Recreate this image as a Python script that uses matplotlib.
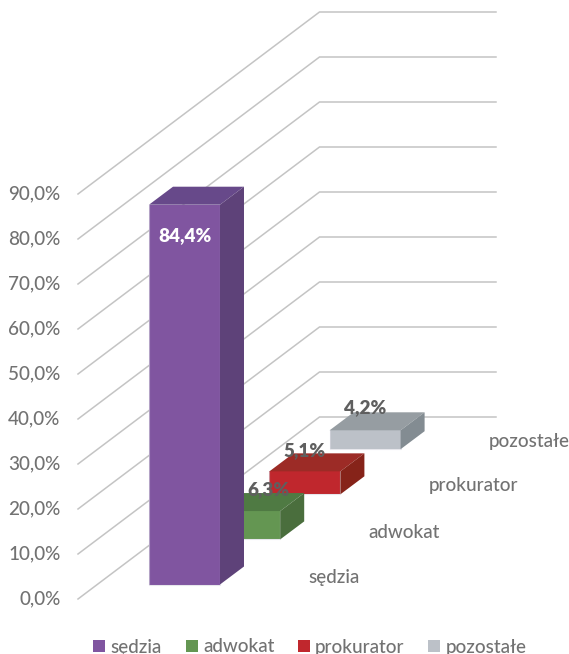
import matplotlib
matplotlib.use("Agg")
import matplotlib.pyplot as plt
from matplotlib.patches import Polygon, Patch

plt.rcParams['font.family'] = ['Lato', 'DejaVu Sans']

categories = ['sędzia', 'adwokat', 'prokurator', 'pozostałe']
values = [84.4, 6.3, 5.1, 4.2]
value_labels = ['84,4%', '6,3%', '5,1%', '4,2%']
ticks = [0, 10, 20, 30, 40, 50, 60, 70, 80, 90]
tick_labels = ['0,0%', '10,0%', '20,0%', '30,0%', '40,0%', '50,0%', '60,0%', '70,0%', '80,0%', '90,0%']
front_colors = ['#8055A0', '#649652', '#C0272D', '#BCC1C8']
top_colors = ['#67498A', '#4F7A43', '#9C2B26', '#969DA2']
side_colors = ['#5E4279', '#4A6E3D', '#862319', '#838C92']

TXT = '#727272'
FS = 13.6
WEIGHT = 'medium'

# Projection of the oblique 3D view, in figure pixels
PX_PER_UNIT = 4.5
FLOOR_FRONT = (78, 599)
FLOOR_BACK = (319.5, 417)
WALL_END = 496
BAR_X0, BAR_Y0 = 149, 584.5
STEP_X, STEP_Y = 60.2, -45.1
BAR_W = 71
DEPTH_X, DEPTH_Y = 24, -18

fig = plt.figure(figsize=(5.69, 6.54), dpi=100)
ax = fig.add_axes([0, 0, 1, 1])
ax.set_xlim(0, 569)
ax.set_ylim(654, 0)
ax.axis('off')

# gridlines and value axis
for t, lab in zip(ticks, tick_labels):
    d = t * PX_PER_UNIT
    ax.plot([FLOOR_FRONT[0], FLOOR_BACK[0], WALL_END],
            [FLOOR_FRONT[1] - d, FLOOR_BACK[1] - d, FLOOR_BACK[1] - d],
            color='#C4C4C4', lw=1.1, solid_joinstyle='miter', zorder=1)
    ax.text(60.5, FLOOR_FRONT[1] - d - 0.2, lab, ha='right', va='center',
            fontsize=FS, color=TXT, fontweight=WEIGHT, zorder=1)

# bars, back to front
for i in reversed(range(len(values))):
    x0 = BAR_X0 + STEP_X * i
    x1 = x0 + BAR_W
    yb = BAR_Y0 + STEP_Y * i
    yt = yb - values[i] * PX_PER_UNIT
    z = 3 + (len(values) - i)
    ec = dict(edgecolor='none', linewidth=0)
    ax.add_patch(Polygon([(x0, yb), (x1, yb), (x1, yt), (x0, yt)],
                         facecolor=front_colors[i], zorder=z, **ec))
    ax.plot([x0, x0, x1, x1], [yt, yb, yb, yt], color='#D8D8E0', lw=0.8, alpha=0.6, zorder=z)
    ax.add_patch(Polygon([(x0, yt), (x1, yt), (x1 + DEPTH_X, yt + DEPTH_Y), (x0 + DEPTH_X, yt + DEPTH_Y)],
                         facecolor=top_colors[i], zorder=z, **ec))
    ax.add_patch(Polygon([(x1, yb), (x1 + DEPTH_X, yb + DEPTH_Y), (x1 + DEPTH_X, yt + DEPTH_Y), (x1, yt)],
                         facecolor=side_colors[i], zorder=z, **ec))

# value labels
label_pos = [(185, 235.5, 'white'), (268, 489.5, '#5F5F5F'), (304.5, 450.5, '#5F5F5F'), (365, 407.5, '#5F5F5F')]
for (lx, ly, c), s in zip(label_pos, value_labels):
    ax.text(lx, ly, s, ha='center', va='center', fontsize=FS, fontweight='heavy', color=c, zorder=10)

# category labels along the depth axis
cat_pos = [(334, 577), (404.5, 532), (474, 486), (529.5, 441.5)]
for (cx, cy), s in zip(cat_pos, categories):
    ax.text(cx, cy, s, ha='center', va='center', fontsize=FS, color=TXT, fontweight=WEIGHT, zorder=2)

handles = [Patch(facecolor=c, edgecolor='none', label=s) for c, s in zip(front_colors, categories)]
leg = ax.legend(handles=handles, loc='center', bbox_to_anchor=(310 / 569, 1 - 647 / 654),
                ncols=4, frameon=False, fontsize=FS, labelcolor=TXT,
                prop={'size': FS, 'weight': WEIGHT},
                handlelength=0.64, handleheight=0.64, handletextpad=0.28,
                columnspacing=1.25, borderpad=0, borderaxespad=0)

fig.savefig('out.png', dpi=100)
